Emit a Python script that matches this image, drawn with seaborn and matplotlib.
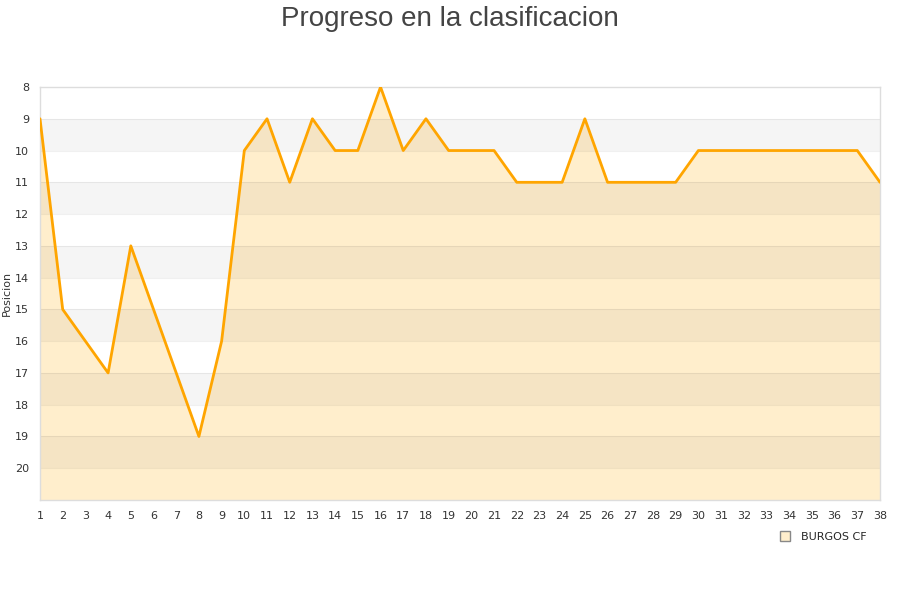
import pandas as pd
import matplotlib
matplotlib.use("Agg")
import matplotlib.pyplot as plt
import seaborn as sns
from matplotlib.lines import Line2D

jornadas = list(range(1, 39))
posiciones = [9, 15, 16, 17, 13, 15, 17, 19, 16, 10,
              9, 11, 9, 10, 10, 8, 10, 9, 10, 10,
              10, 11, 11, 11, 9, 11, 11, 11, 11, 10,
              10, 10, 10, 10, 10, 10, 10, 11]
equipo = "BURGOS CF"

df = pd.DataFrame({"jornada": jornadas, "posicion": posiciones})

sns.set_style("white")
plt.rcParams['font.family'] = ['DejaVu Sans']

fig = plt.figure(figsize=(9, 6), dpi=100)
ax = fig.add_axes([40/900, 1-500/600, 840/900, 413/600])

# relleno bajo la linea
ax.fill_between(df["jornada"], df["posicion"], 21, color="#ffeecc", zorder=1, linewidth=0)

# bandas alternas
for y0 in range(9, 21, 2):
    ax.axhspan(y0, y0 + 1, color="black", alpha=0.04, zorder=2, linewidth=0)
for y in range(9, 21):
    ax.axhline(y, color="#000000", alpha=0.06, linewidth=0.8, zorder=2)

sns.lineplot(data=df, x="jornada", y="posicion", color="#ffa500", linewidth=2, ax=ax, zorder=3)

ax.set_xlim(1, 38)
ax.set_ylim(21, 8)
ax.set_xticks(jornadas)
ax.set_yticks(range(8, 21))
ax.tick_params(axis="both", labelsize=8, colors="#333333", length=0)
ax.tick_params(axis="x", pad=8)
ax.tick_params(axis="y", pad=8)
ax.set_xlabel("")
ax.set_ylabel("Posicion", fontsize=8, color="#333333", labelpad=2)
for s in ax.spines.values():
    s.set_color("#dddddd")
    s.set_linewidth(1)

fig.suptitle("Progreso en la clasificacion", fontsize=20, color="#444444", y=0.99,
             family="Liberation Sans")

handle = Line2D([], [], marker="s", linestyle="none", markersize=7,
                markerfacecolor="#ffeecc", markeredgecolor="#888888")
fig.legend([handle], [equipo], loc="center", bbox_to_anchor=(820/900, 1-537/600),
           frameon=False, fontsize=8, handletextpad=0.4)

fig.savefig("out.png", dpi=100)
